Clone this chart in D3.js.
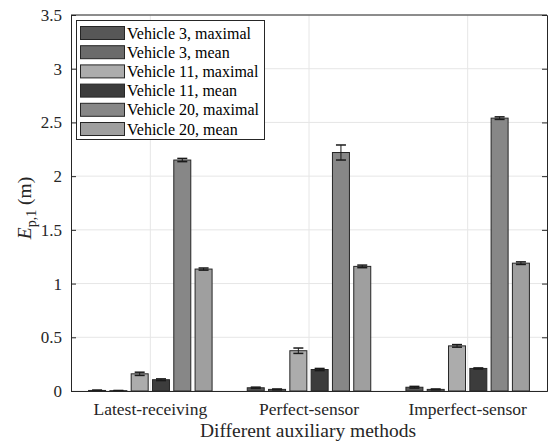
<!DOCTYPE html>
<html><head><meta charset="utf-8">
<script src="https://cdn.jsdelivr.net/npm/d3@7"></script>
<style>body{margin:0;background:#fff}svg{display:block}</style>
</head><body><div id="c"></div>
<script>
const categories = ["Latest-receiving", "Perfect-sensor", "Imperfect-sensor"];
const seriesNames = ["Vehicle 3, maximal","Vehicle 3, mean","Vehicle 11, maximal","Vehicle 11, mean","Vehicle 20, maximal","Vehicle 20, mean"];
const seriesColors = ["#575757","#6b6b6b","#acacac","#3c3c3c","#878787","#9f9f9f"];
const v3max  = [0.005, 0.03, 0.035];
const v3mean = [0.003, 0.015, 0.015];
const v11max = [0.16, 0.375, 0.42];
const v11mean= [0.105, 0.20, 0.21];
const v20max = [2.15, 2.22, 2.54];
const v20mean= [1.135, 1.16, 1.19];
const v3maxErr  = [0.004, 0.006, 0.008];
const v3meanErr = [0.002, 0.004, 0.004];
const v11maxErr = [0.015, 0.025, 0.012];
const v11meanErr= [0.008, 0.01, 0.005];
const v20maxErr = [0.015, 0.07, 0.012];
const v20meanErr= [0.01, 0.012, 0.012];
const yTicks = [0,0.5,1,1.5,2,2.5,3,3.5];
const yTickLabels = ["0","0.5","1","1.5","2","2.5","3","3.5"];

const values = [v3max,v3mean,v11max,v11mean,v20max,v20mean];
const errs = [v3maxErr,v3meanErr,v11maxErr,v11meanErr,v20maxErr,v20meanErr];
const FONT = "Liberation Serif";

const W=548,H=443, L=71, R=547, T=15, B=391;
const svg=d3.select("#c").append("svg").attr("width",W).attr("height",H).attr("font-family",FONT);
const x=d3.scaleBand().domain(categories).range([L,R]).paddingInner(0).paddingOuter(0);
const y=d3.scaleLinear().domain([0,3.5]).range([B,T]);

// grid
svg.append("g").selectAll("line").data(yTicks).join("line")
  .attr("x1",L).attr("x2",R).attr("y1",d=>y(d)).attr("y2",d=>y(d))
  .attr("stroke","#e6e6e6").attr("stroke-width",1);
svg.append("g").selectAll("line").data(categories).join("line")
  .attr("x1",d=>x(d)+x.bandwidth()/2).attr("x2",d=>x(d)+x.bandwidth()/2).attr("y1",T).attr("y2",B)
  .attr("stroke","#e6e6e6").attr("stroke-width",1);

// bars
const step=21.3, bw=17;
seriesNames.forEach((s,i)=>{
  const g=svg.append("g");
  categories.forEach((c,j)=>{
    const cx=x(c)+x.bandwidth()/2+(i-2.5)*step;
    const v=values[i][j], e=errs[i][j];
    g.append("rect").attr("x",cx-bw/2).attr("width",bw).attr("y",y(v)).attr("height",y(0)-y(v))
      .attr("fill",seriesColors[i]).attr("stroke","#262626").attr("stroke-width",1);
    const y1=y(v+e), y2=y(Math.max(0,v-e));
    g.append("line").attr("x1",cx).attr("x2",cx).attr("y1",y1).attr("y2",y2).attr("stroke","#1a1a1a").attr("stroke-width",1);
    [y1,y2].forEach(yy=>g.append("line").attr("x1",cx-5).attr("x2",cx+5).attr("y1",yy).attr("y2",yy).attr("stroke","#1a1a1a").attr("stroke-width",1.5));
  });
});

// axes
const ya=svg.append("g").attr("transform",`translate(${L},0)`)
  .call(d3.axisLeft(y).tickValues(yTicks).tickFormat((d,i)=>yTickLabels[i]).tickSize(-5).tickPadding(9));
const ya2=svg.append("g").attr("transform",`translate(${R},0)`)
  .call(d3.axisRight(y).tickValues(yTicks).tickFormat("").tickSize(-5));
const xa=svg.append("g").attr("transform",`translate(0,${B})`)
  .call(d3.axisBottom(x).tickSize(0).tickPadding(12));
svg.append("line").attr("x1",L).attr("x2",R).attr("y1",T).attr("y2",T).attr("stroke","#262626");
[ya,ya2,xa].forEach(a=>{a.attr("font-family",FONT);a.select(".domain").attr("stroke","#262626");a.selectAll(".tick line").attr("stroke","#262626");
  a.selectAll("text").attr("fill","#262626").attr("font-family",FONT);});
ya.selectAll("text").attr("font-size",17);
xa.selectAll("text").attr("font-size",17.5);

svg.append("text").attr("x",(L+R)/2-1).attr("y",437).attr("text-anchor","middle").attr("font-size",19.5).attr("fill","#262626").text("Different auxiliary methods");
const yl=svg.append("text").attr("transform",`translate(31,208) rotate(-90)`).attr("text-anchor","middle").attr("font-size",19.5).attr("fill","#262626");
yl.append("tspan").attr("font-style","italic").text("E");
yl.append("tspan").attr("font-size",14).attr("dy",5).text("p,1");
yl.append("tspan").attr("dy",-5).text(" (m)");

// legend
const lg=svg.append("g");
lg.append("rect").attr("x",76.5).attr("y",20.5).attr("width",188).attr("height",119).attr("fill","#fff").attr("stroke","#262626");
seriesNames.forEach((s,i)=>{
  const yy=26+i*19.2;
  lg.append("rect").attr("x",80.5).attr("y",yy+0.5).attr("width",44).attr("height",13).attr("fill",seriesColors[i]).attr("stroke","#262626");
  lg.append("text").attr("x",127).attr("y",yy+12.5).attr("font-size",16).attr("fill","#000").text(s);
});
</script></body></html>
